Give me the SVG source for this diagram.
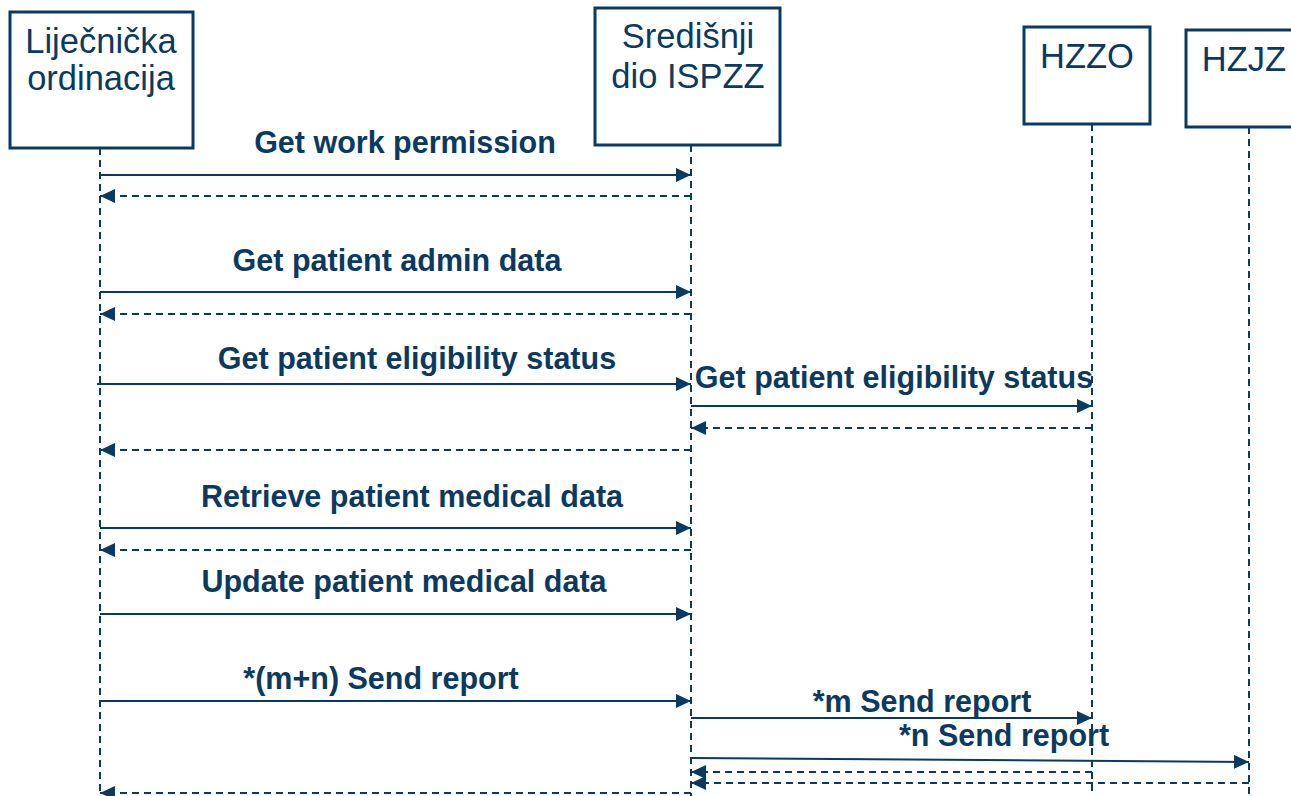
<svg xmlns="http://www.w3.org/2000/svg" width="1291" height="796" viewBox="0 0 1291 796">
<defs>
<marker id="ah" markerUnits="userSpaceOnUse" markerWidth="16" markerHeight="14" refX="15" refY="7" orient="auto">
<path d="M0,0 L15,7 L0,14 Z" fill="#0b3a60"/>
</marker>
<style>
.box{fill:#fff;stroke:#0b3a60;stroke-width:3}
.hdr{font-family:"Liberation Sans",Arial,sans-serif;font-size:34.5px;fill:#0b3a60;text-anchor:middle}
.life{stroke:#0b3a60;stroke-width:2;stroke-dasharray:7 5;fill:none}
.msg{stroke:#0b3a60;stroke-width:2;fill:none;marker-end:url(#ah)}
.ret{stroke:#0b3a60;stroke-width:2;fill:none;stroke-dasharray:7 5;marker-end:url(#ah)}
.lbl{font-family:"Liberation Sans",Arial,sans-serif;font-size:30.5px;font-weight:bold;fill:#0b3a60;text-anchor:middle}
</style>
</defs>
<rect width="1291" height="796" fill="#fff"/>
<g id="lifelines">
<line class="life" x1="100" y1="148" x2="100" y2="796"/>
<line class="life" x1="691" y1="145" x2="691" y2="796"/>
<line class="life" x1="1092" y1="124" x2="1092" y2="796"/>
<line class="life" x1="1249" y1="127" x2="1249" y2="796"/>
</g>
<g id="node-ordinacija">
<rect class="box" x="10" y="12" width="183" height="136"/>
<text class="hdr" x="101" y="53">Liječnička</text>
<text class="hdr" x="101" y="90">ordinacija</text>
</g>
<g id="node-ispzz">
<rect class="box" x="595" y="8" width="185" height="137"/>
<text class="hdr" x="688" y="48">Središnji</text>
<text class="hdr" x="688" y="88">dio ISPZZ</text>
</g>
<g id="node-hzzo">
<rect class="box" x="1024" y="27" width="126" height="97"/>
<text class="hdr" x="1087" y="68">HZZO</text>
</g>
<g id="node-hzjz">
<rect class="box" x="1186" y="30" width="120" height="97"/>
<text class="hdr" x="1244" y="71">HZJZ</text>
</g>
<g id="connectors">
<line class="msg" x1="100" y1="175" x2="691" y2="175"/>
<line class="ret" x1="691" y1="196" x2="100" y2="196"/>
<line class="msg" x1="100" y1="292" x2="691" y2="292"/>
<line class="ret" x1="691" y1="314" x2="100" y2="314"/>
<line class="msg" x1="97" y1="384" x2="691" y2="384"/>
<line class="msg" x1="691" y1="406" x2="1092" y2="406"/>
<line class="ret" x1="1092" y1="428" x2="691" y2="428"/>
<line class="ret" x1="691" y1="450" x2="100" y2="450"/>
<line class="msg" x1="100" y1="528" x2="691" y2="528"/>
<line class="ret" x1="691" y1="550" x2="100" y2="550"/>
<line class="msg" x1="100" y1="614" x2="691" y2="614"/>
<line class="msg" x1="100" y1="701" x2="691" y2="701"/>
<line class="msg" x1="691" y1="718" x2="1092" y2="718"/>
<line class="msg" x1="691" y1="758" x2="1249" y2="762"/>
<line class="ret" x1="1092" y1="772" x2="691" y2="772"/>
<line class="ret" x1="1249" y1="783" x2="691" y2="783"/>
<line class="ret" x1="691" y1="793" x2="100" y2="793"/>
</g>
<g id="labels">
<text class="lbl" x="405" y="153">Get work permission</text>
<text class="lbl" x="397" y="271">Get patient admin data</text>
<text class="lbl" x="417" y="369">Get patient eligibility status</text>
<text class="lbl" x="894" y="388">Get patient eligibility status</text>
<text class="lbl" x="412" y="507">Retrieve patient medical data</text>
<text class="lbl" x="404" y="592">Update patient medical data</text>
<text class="lbl" x="381" y="689">*(m+n) Send report</text>
<text class="lbl" x="922" y="712">*m Send report</text>
<text class="lbl" x="1004" y="746">*n Send report</text>
</g>
</svg>
